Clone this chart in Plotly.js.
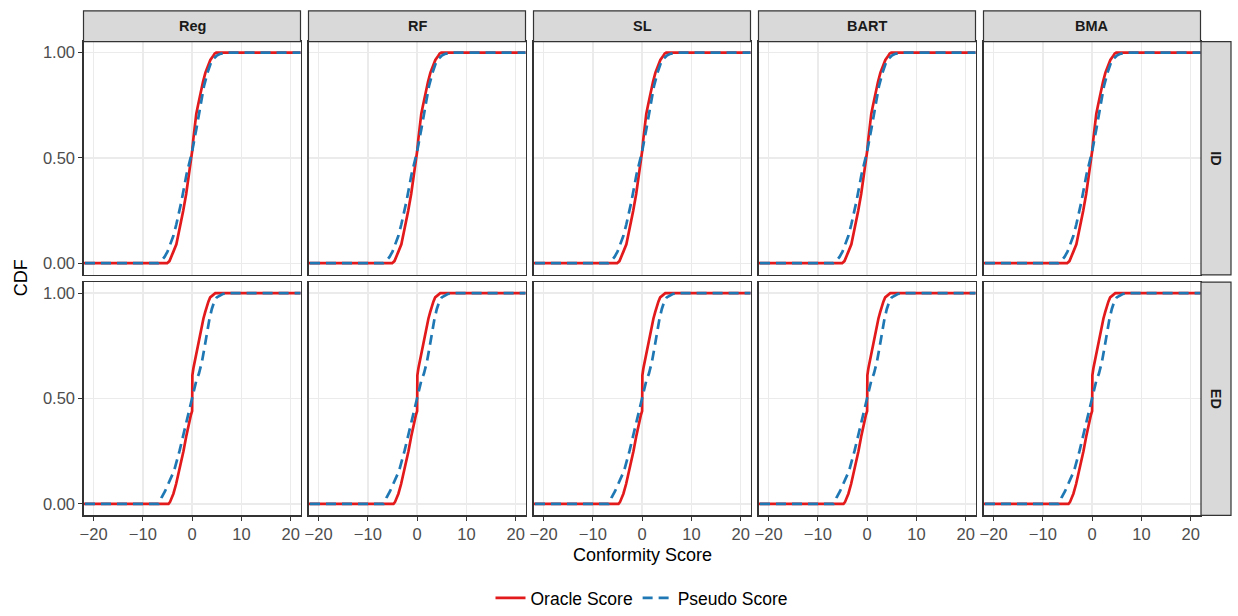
<!DOCTYPE html>
<html>
<head>
<meta charset="utf-8">
<script src="https://cdn.plot.ly/plotly-3.0.1.min.js"></script>
<style>html,body{margin:0;padding:0;background:#fff;}#chart{width:1238px;height:616px;}</style>
</head>
<body>
<div id="chart"></div>
<script>
// ---- data ----
const models = ['Reg', 'RF', 'SL', 'BART', 'BMA'];
const settings = ['ID', 'ED'];
const seriesNames = ['Oracle Score', 'Pseudo Score'];
const xTickVals = [-20, -10, 0, 10, 20];
const yTickVals = [0, 0.5, 1];
const yTickText = ['0.00', '0.50', '1.00'];

const idOracleX = [-25, -5.07, -4.6, -4.2, -3.8, -3.2, -2.5, -1.8, -1.2, -0.47, -0.2, 0, 0.25, 0.54, 0.85, 1.2, 1.7, 2.2, 2.7, 3.2, 3.7, 4.3, 4.6, 4.9, 25];
const idOracleY = [0, 0, 0.01, 0.03, 0.055, 0.09, 0.165, 0.25, 0.33, 0.44, 0.48, 0.53, 0.59, 0.655, 0.71, 0.75, 0.81, 0.86, 0.905, 0.94, 0.965, 0.985, 0.996, 1, 1];
const idPseudoX = [-25, -6.9, -6.3, -5.6, -5, -4.5, -3.8, -3.2, -2.2, -1.15, -0.5, 0, 0.88, 1.55, 2.0, 2.4, 3.2, 3.8, 4.3, 5.0, 5.6, 6.5, 7.6, 25];
const idPseudoY = [0, 0, 0.01, 0.03, 0.055, 0.085, 0.13, 0.185, 0.29, 0.42, 0.48, 0.53, 0.64, 0.73, 0.79, 0.84, 0.91, 0.95, 0.97, 0.985, 0.993, 0.998, 1, 1];

const edOracleX = [-25, -4.8, -4.5, -4.2, -3.8, -3.25, -2.5, -1.76, -1.2, -0.75, -0.27, 0, 0.05, 0.27, 0.6, 0.95, 1.3, 1.63, 2.0, 2.3, 2.65, 3.0, 3.3, 3.66, 4.2, 4.7, 25];
const edOracleY = [0, 0, 0.008, 0.022, 0.048, 0.094, 0.17, 0.25, 0.32, 0.376, 0.42, 0.44, 0.61, 0.645, 0.685, 0.72, 0.76, 0.80, 0.845, 0.88, 0.91, 0.94, 0.96, 0.98, 0.993, 1, 1];
const edPseudoX = [-25, -6.8, -6.5, -6.2, -5.5, -4.8, -3.66, -2.57, -1.76, -0.95, -0.4, 0, 0.3, 0.8, 1.4, 2.0, 2.5, 3.0, 3.5, 4.0, 4.5, 5.0, 5.5, 6.2, 7.0, 25];
const edPseudoY = [0, 0, 0.01, 0.03, 0.06, 0.094, 0.157, 0.25, 0.33, 0.41, 0.455, 0.49, 0.53, 0.58, 0.62, 0.675, 0.74, 0.81, 0.875, 0.925, 0.96, 0.98, 0.988, 0.996, 1, 1];

const oracleByRow = [[idOracleX, idOracleY], [edOracleX, edOracleY]];
const pseudoByRow = [[idPseudoX, idPseudoY], [edPseudoX, edPseudoY]];

// ---- layout geometry ----
const W = 1238, H = 616;
const colLeft = [83.5, 308.5, 533.5, 758.5, 983.5];
const colWidth = 217;
const rowTop = [42, 285];
const rowHeight = 235.5;
const stripTop = 11;
const rightStripX = [1201, 1231];

const red = '#E31A1C', blue = '#1F78B4';
const font = 'Liberation Sans, Arial, Helvetica, sans-serif';

const traces = [];
const layout = {
  width: W, height: H,
  margin: {l: 0, r: 0, t: 0, b: 0},
  paper_bgcolor: '#fff', plot_bgcolor: '#fff',
  font: {family: font, color: '#000'},
  showlegend: true,
  legend: {
    orientation: 'h', x: 642 / W, xanchor: 'center', y: 1 - 604 / H, yanchor: 'middle',
    font: {size: 17.5, family: font, color: '#000'}, bgcolor: 'rgba(0,0,0,0)', tracegroupgap: 0
  },
  shapes: [], annotations: []
};

for (let r = 0; r < 2; r++) {
  for (let c = 0; c < 5; c++) {
    const idx = r * 5 + c + 1;
    const sfx = idx === 1 ? '' : String(idx);
    const xa = 'x' + sfx, ya = 'y' + sfx;
    traces.push({
      x: oracleByRow[r][0], y: oracleByRow[r][1], xaxis: xa, yaxis: ya,
      type: 'scatter', mode: 'lines', name: seriesNames[0], legendgroup: 'o',
      showlegend: idx === 1, line: {color: red, width: 2.7}, hoverinfo: 'skip'
    });
    traces.push({
      x: pseudoByRow[r][0], y: pseudoByRow[r][1], xaxis: xa, yaxis: ya,
      type: 'scatter', mode: 'lines', name: seriesNames[1], legendgroup: 'p',
      showlegend: idx === 1, line: {color: blue, width: 2.7, dash: '10px,6px'}, hoverinfo: 'skip'
    });
    const bottom = r === 1, left = c === 0;
    layout['xaxis' + sfx] = {
      domain: [colLeft[c] / W, (colLeft[c] + colWidth) / W],
      anchor: ya, range: [-22.05, 22],
      tickvals: xTickVals, showticklabels: bottom,
      ticks: bottom ? 'outside' : '', ticklen: 4, tickwidth: 1.1, tickcolor: '#333',
      tickfont: {size: 16.5, color: '#4D4D4D', family: font},
      showgrid: true, gridcolor: '#EBEBEB', gridwidth: 1.4, zeroline: false,
      showline: true, mirror: true, linecolor: '#333', linewidth: 1.2,
      fixedrange: true
    };
    layout['yaxis' + sfx] = {
      domain: [1 - (rowTop[r] + rowHeight) / H, 1 - rowTop[r] / H],
      anchor: xa, range: [-0.055, 1.052],
      tickvals: yTickVals, ticktext: yTickText, showticklabels: left,
      ticks: left ? 'outside' : '', ticklen: 4, tickwidth: 1.1, tickcolor: '#333',
      tickfont: {size: 16.5, color: '#4D4D4D', family: font},
      showgrid: true, gridcolor: '#EBEBEB', gridwidth: 1.4, zeroline: false,
      showline: true, mirror: true, linecolor: '#333', linewidth: 1.2,
      fixedrange: true
    };
  }
}

// top strips
for (let c = 0; c < 5; c++) {
  layout.shapes.push({
    type: 'rect', xref: 'paper', yref: 'paper',
    x0: colLeft[c] / W, x1: (colLeft[c] + colWidth) / W,
    y0: 1 - rowTop[0] / H, y1: 1 - stripTop / H,
    fillcolor: '#D9D9D9', line: {color: '#333', width: 1.2}
  });
  layout.annotations.push({
    xref: 'paper', yref: 'paper', x: (colLeft[c] + colWidth / 2) / W, y: 1 - (stripTop + rowTop[0]) / 2 / H,
    text: models[c], showarrow: false, xanchor: 'center', yanchor: 'middle',
    font: {size: 14.5, color: '#1A1A1A', family: font, weight: 'bold'}
  });
}
// right strips
for (let r = 0; r < 2; r++) {
  layout.shapes.push({
    type: 'rect', xref: 'paper', yref: 'paper',
    x0: rightStripX[0] / W, x1: rightStripX[1] / W,
    y0: 1 - (rowTop[r] + rowHeight) / H, y1: 1 - rowTop[r] / H,
    fillcolor: '#D9D9D9', line: {color: '#333', width: 1.2}
  });
  layout.annotations.push({
    xref: 'paper', yref: 'paper', x: (rightStripX[0] + rightStripX[1]) / 2 / W,
    y: 1 - (rowTop[r] + rowHeight / 2) / H,
    text: settings[r], showarrow: false, textangle: 90, xanchor: 'center', yanchor: 'middle',
    font: {size: 14.5, color: '#1A1A1A', family: font, weight: 'bold'}
  });
}
// axis titles
layout.annotations.push({
  xref: 'paper', yref: 'paper', x: 642 / W, y: 1 - 560 / H,
  text: 'Conformity Score', showarrow: false, xanchor: 'center', yanchor: 'middle',
  font: {size: 18, color: '#000', family: font}
});
layout.annotations.push({
  xref: 'paper', yref: 'paper', x: 21 / W, y: 1 - 281 / H,
  text: 'CDF', showarrow: false, textangle: -90, xanchor: 'center', yanchor: 'middle',
  font: {size: 18, color: '#000', family: font}
});

Plotly.newPlot('chart', traces, layout, {staticPlot: true, displayModeBar: false});
</script>
</body>
</html>
